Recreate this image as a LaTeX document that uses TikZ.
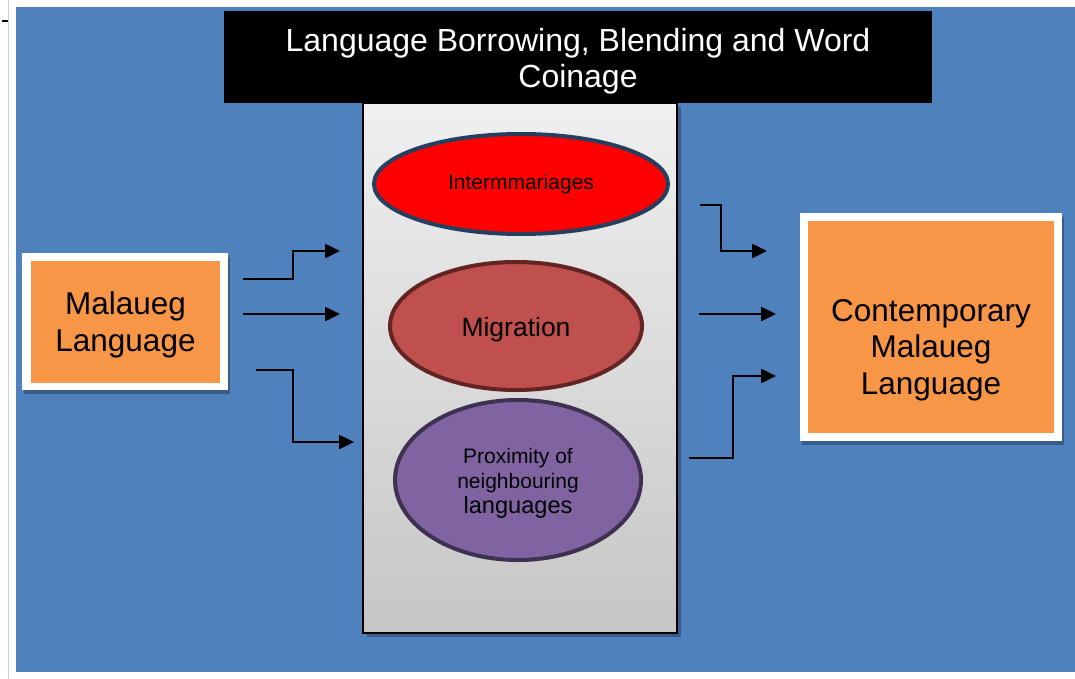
\documentclass[tikz,border=0pt]{standalone}
\usepackage{fontspec}
\setmainfont{Liberation Sans}
\usetikzlibrary{shapes.geometric,arrows.meta}
\definecolor{bgblue}{HTML}{4F81BD}
\definecolor{shadowblue}{HTML}{385D8A}
\definecolor{orangefill}{HTML}{F79646}
\definecolor{redborder}{HTML}{243F60}
\definecolor{migfill}{HTML}{C0504D}
\definecolor{migborder}{HTML}{632523}
\definecolor{proxfill}{HTML}{8064A2}
\definecolor{proxborder}{HTML}{3F3151}
\tikzset{
  framebox/.style={fill=white, draw=none, inner sep=0pt},
  orangebox/.style={fill=orangefill, draw=none, inner sep=0pt},
  causeellipse/.style={ellipse, line width=4pt, inner sep=0pt},
  label text/.style={inner sep=0pt, align=center, text=black},
  arr/.style={line width=2.5pt, -{Triangle[length=15pt,width=14pt]}},
}
\begin{document}
\begin{tikzpicture}[x=1pt,y=-1pt]
\useasboundingbox (0,0) rectangle (1075,679);
\fill[white] (0,0) rectangle (1075,679);
% page edge
\draw[gray!35, line width=1pt] (8,0) -- (8,679);
\draw[black, line width=2.5pt] (2,21) -- (8,21);
% background
\fill[bgblue] (16,7) rectangle (1075,672);

% central gray box with shadow
\fill[shadowblue] (367,107) rectangle (681,637);
\shade[top color=gray!12, bottom color=gray!45, draw=black, line width=1.5pt] (363,103) rectangle (677,633);
\node[inner sep=0pt, minimum width=314, minimum height=530] (mid) at (520,368) {};

% title
\node[fill=black, minimum width=708, minimum height=92, inner sep=0pt] (title) at (578,57) {};
\node[label text, text=white, font=\fontsize{32}{36}\selectfont] (titletext) at (578,61)
  {Language Borrowing, Blending and Word\\Coinage};

% ellipses
\node[causeellipse, fill=red, draw=redborder, minimum width=294, minimum height=100] (inter) at (521,184) {};
\node[label text, font=\fontsize{21}{25}\selectfont] (intertext) at (521,184) {Intermmariages};
\node[causeellipse, fill=migfill, draw=migborder, minimum width=252, minimum height=128] (mig) at (516,326) {};
\node[label text, font=\fontsize{26.5}{30}\selectfont] (migtext) at (516,330) {Migration};
\node[causeellipse, fill=proxfill, draw=proxborder, minimum width=246, minimum height=160] (prox) at (518,480) {};
\node[label text, font=\fontsize{21}{25}\selectfont] (proxtext) at (518,483)
  {Proximity of\\neighbouring\\{\fontsize{23.6}{26}\selectfont languages}};

% left box
\fill[shadowblue] (24,257) rectangle (230,394);
\node[framebox, minimum width=206, minimum height=137] (lframe) at (125,321.5) {};
\node[orangebox, minimum width=189, minimum height=122] (left) at (125.5,322) {};
\node[label text, font=\fontsize{31.5}{37}\selectfont] (lefttext) at (125.5,325) {Malaueg\\Language};

% right box
\fill[shadowblue] (802,217) rectangle (1064,445);
\node[framebox, minimum width=262, minimum height=228] (rframe) at (931,327) {};
\node[orangebox, minimum width=246, minimum height=212] (right) at (931,327) {};
\node[label text, font=\fontsize{31.5}{36.5}\selectfont] (righttext) at (931,350) {Contemporary\\Malaueg\\Language};

% left arrows
\coordinate (l1s) at (243,279); \coordinate (l1e) at (340,251);
\coordinate (l2s) at (243,314); \coordinate (l2e) at (340,314);
\coordinate (l3s) at (256,370); \coordinate (l3e) at (354,442);
\draw[arr] (l1s) -- ([xshift=50pt]l1s) |- (l1e);
\draw[arr] (l2s) -- (l2e);
\draw[arr] (l3s) -- ([xshift=37pt]l3s) |- (l3e);

% right arrows
\coordinate (r1s) at (700,205); \coordinate (r1e) at (767,251);
\coordinate (r2s) at (699,314); \coordinate (r2e) at (776,314);
\coordinate (r3s) at (689,458); \coordinate (r3e) at (776,376);
\draw[arr] (r1s) -- ([xshift=21pt]r1s) |- (r1e);
\draw[arr] (r2s) -- (r2e);
\draw[arr] (r3s) -- ([xshift=44pt]r3s) |- (r3e);
\end{tikzpicture}
\end{document}
